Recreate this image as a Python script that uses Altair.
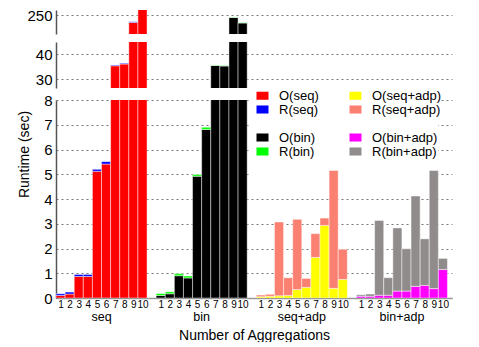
import altair as alt
import pandas as pd

groups = ["seq", "bin", "seq+adp", "bin+adp"]
bar_numbers = list(range(1, 11))

# overhead (O) and remainder (R) runtimes in seconds, per number of aggregations
o_seq = [0.10, 0.16, 0.87, 0.87, 5.12, 5.41, 35.3, 36.0, 247.0, 255.0]
r_seq = [0.07, 0.08, 0.08, 0.08, 0.08, 0.10, 0.3, 0.3, 0.3, 0.3]
o_bin = [0.10, 0.17, 0.90, 0.81, 4.92, 6.81, 35.4, 35.2, 249.0, 246.8]
r_bin = [0.08, 0.08, 0.08, 0.08, 0.07, 0.09, 0.2, 0.2, 0.2, 0.2]
o_seq_adp = [0.05, 0.07, 0.09, 0.10, 0.34, 0.43, 1.64, 2.93, 0.39, 0.75]
r_seq_adp = [0.07, 0.08, 2.98, 0.72, 2.84, 0.36, 0.96, 0.30, 4.76, 1.22]
o_bin_adp = [0.07, 0.07, 0.11, 0.11, 0.28, 0.28, 0.47, 0.51, 0.38, 1.15]
r_bin_adp = [0.06, 0.09, 3.02, 0.71, 2.55, 1.71, 3.65, 1.88, 4.77, 0.45]

series_o = ["O(seq)", "O(bin)", "O(seq+adp)", "O(bin+adp)"]
series_r = ["R(seq)", "R(bin)", "R(seq+adp)", "R(bin+adp)"]
o_vals = [o_seq, o_bin, o_seq_adp, o_bin_adp]
r_vals = [r_seq, r_bin, r_seq_adp, r_bin_adp]

BLANK1 = "\u00a0"
BLANK2 = "\u00a0\u00a0"
legend_domain = ["O(seq)", "R(seq)", BLANK1, "O(bin)", "R(bin)",
                 "O(seq+adp)", "R(seq+adp)", BLANK2, "O(bin+adp)", "R(bin+adp)"]
legend_colors = ["#ff0000", "#0000ff", "#ffffff", "#000000", "#00ff00",
                 "#ffff00", "#fa8072", "#ffffff", "#ff00ff", "#918c8c"]

rows = []
for gi, g in enumerate(groups):
    for bi, b in enumerate(bar_numbers):
        x0 = gi * 11 + bi
        o = o_vals[gi][bi]
        r = r_vals[gi][bi]
        rows.append(dict(group=g, bar=b, x0=x0, x1=x0 + 1, series=series_o[gi], y0=0.0, y1=o))
        rows.append(dict(group=g, bar=b, x0=x0, x1=x0 + 1, series=series_r[gi], y0=o, y1=o + r))
df = pd.DataFrame(rows)
grp_df = pd.DataFrame({"group": groups, "xc": [gi * 11 + 5 for gi in range(len(groups))]})

FONT = "Liberation Sans"
W = 396
XDOM = [0, 43.5]
tick_centers = [gi * 11 + bi + 0.5 for gi in range(4) for bi in range(10)]

color = alt.Color(
    "series:N",
    scale=alt.Scale(domain=legend_domain, range=legend_colors),
    legend=alt.Legend(
        orient="none", legendX=200, legendY=79, columns=2, title=None,
        symbolType="M-1,-0.67H1V0.67H-1Z", symbolSize=144, symbolStrokeWidth=0,
        labelFontSize=13, labelFont=FONT, labelColor="black", labelOffset=10,
        rowPadding=0, columnPadding=30,
    ),
)

xaxis_bottom = alt.Axis(
    values=tick_centers, labelExpr="floor(datum.value) % 11 + 1",
    ticks=False, grid=False, domainColor="#999", domainWidth=1.5,
    labelFontSize=10, labelFont=FONT, labelColor="black", labelPadding=1,
    labelOverlap=False, labelFlush=False,
    title="Number of Aggregations", titleFont=FONT, titleFontSize=14,
    titleFontWeight="normal", titleColor="black", titlePadding=19,
)


def panel(domain, height, ticks, bottom=False):
    common = dict(
        values=ticks, grid=True, gridDash=[2, 3], gridColor="#777", gridWidth=1,
        ticks=False, domainColor="#555", domainWidth=1.5, labelFontSize=15,
        labelFont=FONT, labelColor="black", labelPadding=4,
    )
    if bottom:
        yaxis = alt.Axis(
            title="Runtime (sec)", titleFont=FONT, titleFontSize=14,
            titleFontWeight="normal", titleColor="black", titleY=54, titlePadding=12,
            **common,
        )
        xaxis = xaxis_bottom
    else:
        yaxis = alt.Axis(title=None, **common)
        xaxis = None
    xscale = alt.Scale(domain=XDOM, nice=False, zero=False)
    bars = alt.Chart(df).mark_rect(
        clip=True, stroke="white", strokeOpacity=0.45, strokeWidth=1
    ).encode(
        x=alt.X("x0:Q", scale=xscale, axis=xaxis, title="Number of Aggregations"),
        x2="x1:Q",
        y=alt.Y("y0:Q", scale=alt.Scale(domain=domain, nice=False, zero=False), axis=yaxis),
        y2="y1:Q",
        color=color,
    )
    if not bottom:
        return bars.properties(width=W, height=height)
    box = alt.Chart(grp_df).mark_rect(color="white").encode(
        x=alt.value(194), x2=alt.value(382), y=alt.value(-9), y2=alt.value(81)
    )
    labels = alt.Chart(grp_df).mark_text(
        font=FONT, fontSize=12.5, color="black", baseline="alphabetic"
    ).encode(
        x=alt.X("xc:Q", scale=xscale, axis=xaxis_bottom, title="Number of Aggregations"),
        y=alt.value(height + 23),
        text="group:N",
    )
    return alt.layer(box, bars, labels).properties(width=W, height=height)


top = panel([242.4, 252], 24, [250])
mid = panel([26.4, 44.8], 46, [30, 40])
bot = panel([0, 8], 198, list(range(0, 9)), bottom=True)

lower = alt.vconcat(mid, bot, spacing=12, bounds="flush")
chart = alt.vconcat(top, lower, spacing=8, bounds="flush").properties(
    padding={"left": 9, "top": 0, "right": 5, "bottom": 0}, background="white"
).configure_view(strokeWidth=0, stroke="transparent")

chart.save("out.html", embed_options={"renderer": "svg", "actions": False})
